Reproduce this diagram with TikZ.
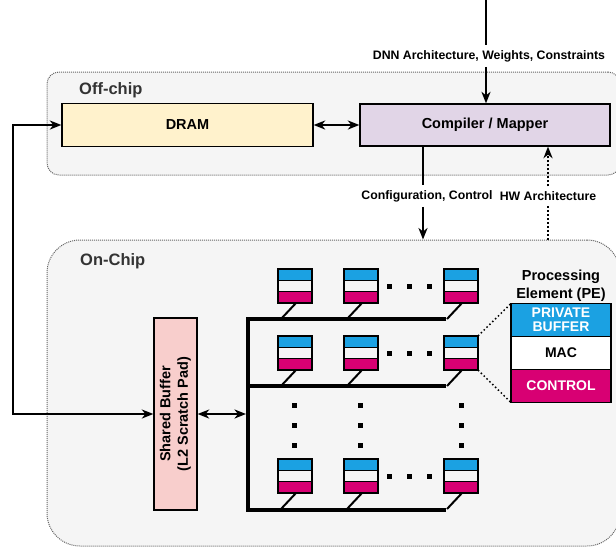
\documentclass[tikz,border=0pt]{standalone}
\usepackage{fontspec}
\setmainfont{Liberation Sans}
\usepackage{tikz}
\usetikzlibrary{arrows.meta,positioning}

\definecolor{dramfill}{HTML}{FFF2CC}
\definecolor{mapfill}{HTML}{E1D5E7}
\definecolor{sbfill}{HTML}{F8CECC}
\definecolor{peblue}{HTML}{1BA1E2}
\definecolor{pemag}{HTML}{D80073}
\definecolor{boxfill}{HTML}{F5F5F5}
\definecolor{boxline}{HTML}{666666}
\definecolor{headtext}{HTML}{333333}

\newcommand{\lblfont}{\fontsize{12.3}{14.8}\selectfont\bfseries}
\newcommand{\boxfont}{\fontsize{14.5}{17.5}\selectfont\bfseries}
\newcommand{\headfont}{\fontsize{16.5}{19.8}\selectfont\bfseries}

\begin{document}
\begin{tikzpicture}[>={Stealth[length=11.5pt,width=9pt,inset=3.5pt]},x=1pt,y=-1pt,
                    line join=miter]
  \tikzstyle{container}=[draw=boxline,fill=boxfill,line width=1pt,dash pattern=on 1pt off 1pt,inner sep=0pt]
  \tikzstyle{head}=[text=headtext,font=\headfont,anchor=west,inner sep=0pt]
  \tikzstyle{block}=[draw=black,line width=1.3pt,inner sep=0pt,font=\boxfont,align=center]
  \tikzstyle{lbl}=[font=\lblfont,inner sep=5pt]
  \tikzstyle{wire}=[line width=2pt]
  \tikzstyle{hwire}=[line width=2pt,dash pattern=on 2pt off 2pt]
  \tikzstyle{bus}=[line width=4pt]
  \tikzstyle{stub}=[line width=2pt]
  \tikzstyle{zoomln}=[line width=1.5pt,dash pattern=on 1.5pt off 2.5pt]
  \tikzstyle{lgd}=[draw=black,line width=1.3pt,minimum width=100,minimum height=33,inner sep=0pt,outer sep=0pt,
                   align=center,font=\fontsize{14}{14}\selectfont\bfseries]
  \tikzstyle{pe}=[draw=black,line width=1.2pt,minimum width=34,minimum height=34,inner sep=0pt,outer sep=0pt,
    path picture={
      \fill[peblue] (path picture bounding box.north west) rectangle ([yshift=-11.3pt]path picture bounding box.north east);
      \fill[pemag] ([yshift=11.3pt]path picture bounding box.south west) rectangle (path picture bounding box.south east);
      \draw[line width=1.2pt] ([yshift=-11.3pt]path picture bounding box.north west) -- ([yshift=-11.3pt]path picture bounding box.north east);
      \draw[line width=1.2pt] ([yshift=11.3pt]path picture bounding box.south west) -- ([yshift=11.3pt]path picture bounding box.south east);
    }]

  \useasboundingbox (0,0) rectangle (616,550);

  \node[container,rounded corners=12,minimum width=573,minimum height=103] (offchip) at (333.5,123.5) {};
  \node[container,rounded corners=33,minimum width=573,minimum height=306] (onchip) at (333.5,393) {};
  \node[head] (offlbl) at (79,90) {Off-chip};
  \node[head] (onlbl)  at (80,261) {On-Chip};

  \node[block,fill=dramfill,minimum width=251,minimum height=43] (dram) at (187.5,125) {DRAM};
  \node[block,fill=mapfill,minimum width=250,minimum height=42]  (cm)   at (485,125)   {Compiler / Mapper};
  \node[block,fill=sbfill,minimum width=43,minimum height=192]   (sb)   at (175.5,414)
       {\rotatebox{90}{\begin{tabular}{@{}c@{}}Shared Buffer\\(L2 Scratch Pad)\end{tabular}}};

  \coordinate (dnnin) at (486,0);
  \node[lbl] (dnn) at (489,56) {DNN Architecture, Weights, Constraints};
  \draw[wire] (dnnin) -- (dnnin |- dnn.north);
  \draw[wire,->] (dnnin |- dnn.south) -- (dnnin |- cm.north);

  \coordinate (cfgtop) at ([xshift=-62pt]cm.south);
  \coordinate (hwtop)  at ([xshift=63pt]cm.south);
  \node[lbl] (cfg) at (427,196) {Configuration, Control};
  \node[lbl] (hw)  at (548,196) {HW Architecture};
  \draw[wire] (cfgtop) -- (cfgtop |- cfg.north);
  \draw[wire,->] (cfgtop |- cfg.south) -- (cfgtop |- onchip.north);
  \draw[hwire] (hwtop |- onchip.north) -- (hwtop |- hw.south);
  \draw[hwire,->] (hwtop |- hw.north) -- (hwtop);

  \draw[wire,<->] (dram) -- (cm);
  \draw[wire,<->] (dram.west) -- ++(-48,0) |- (sb.west);

  % PE array
  \coordinate (bar1) at (248,319);
  \coordinate (bar2) at (248,386);
  \coordinate (bar3) at (248,510);
  \draw[bus] (446,319) -- (bar1) -- (bar3) -- (446,510);
  \draw[bus] (bar2) -- (446,386);
  \draw[wire,<->] (sb.east) -- ([xshift=-2pt]sb.east -| bar1);

  \foreach \r/\y in {1/286,2/353,3/476}{
    \foreach \c/\x in {1/295,2/361,3/461}{
      \node[pe] (p\r\c) at (\x,\y) {};
      \draw[stub] ([xshift=1pt]p\r\c.south) -- ++(-15,16);
    }
    \foreach \x in {389,409,429}
      \fill (\x-2.5,\y-2.5) rectangle ++(5,5);
  }
  \foreach \x in {294,360,461}
    \foreach \y in {405,425,445}
      \fill (\x-2.5,\y-2.5) rectangle ++(5,5);

  % PE legend
  \node[lgd,fill=peblue,text=white] (pbuf) at (561,320) {PRIVATE\\BUFFER};
  \node[lgd,fill=white,below=0pt of pbuf] (mac) {MAC};
  \node[lgd,fill=pemag,text=white,below=0pt of mac] (ctrl) {CONTROL};
  \node[font=\boxfont,align=center,inner sep=2pt,above=0pt of pbuf] (pehd) {Processing\\Element (PE)};
  \draw[zoomln] (p23.north east) -- (pbuf.north west);
  \draw[zoomln] (p23.south east) -- (ctrl.south west);
\end{tikzpicture}
\end{document}
